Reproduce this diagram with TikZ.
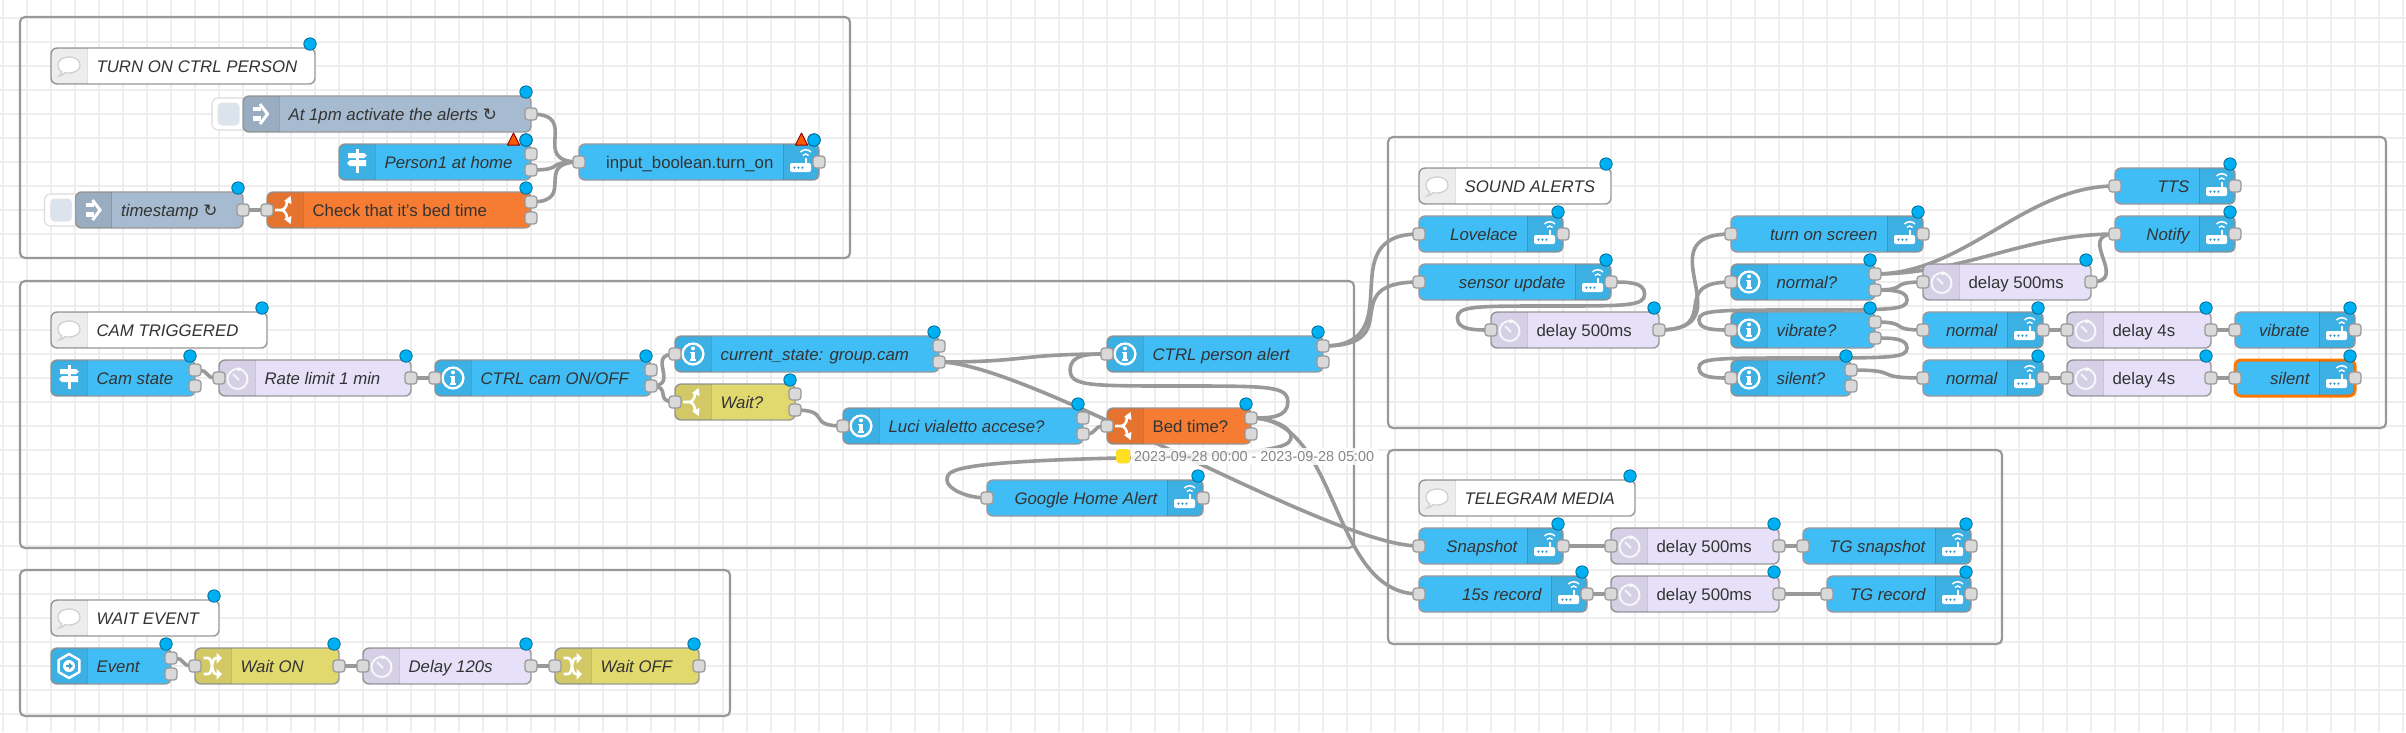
\documentclass[tikz,border=0pt]{standalone}
\usepackage{fontspec}
\setmainfont{Liberation Sans}
\newfontfamily\symfont{DejaVu Sans}
\usetikzlibrary{calc,backgrounds}
\pgfdeclarelayer{gridlayer}
\pgfdeclarelayer{wirelayer}
\pgfsetlayers{gridlayer,wirelayer,main}
\definecolor{cblue}{HTML}{41BDF5}
\definecolor{corange}{HTML}{F57C32}
\definecolor{cpurple}{HTML}{E6E0F8}
\definecolor{cyellow}{HTML}{E2D96E}
\definecolor{cgrey}{HTML}{A6BBCF}
\definecolor{cframe}{HTML}{999999}
\definecolor{cport}{HTML}{D9D9D9}
\definecolor{ctext}{HTML}{333333}
\definecolor{cdot}{HTML}{00B0F5}
\definecolor{cgrid}{HTML}{EEEEEE}
\definecolor{cstatus}{HTML}{FFDF25}
\tikzset{
  nodebox/.style={rectangle,anchor=north west,draw=cframe,line width=1.4pt,rounded corners=6pt,
    minimum height=36pt,inner sep=0pt,outer sep=0pt},
  nblue/.style={fill=cblue},
  norange/.style={fill=corange},
  npurple/.style={fill=cpurple},
  nyellow/.style={fill=cyellow},
  ngrey/.style={fill=cgrey},
  ncomment/.style={fill=white},
  nselected/.style={fill=cblue,draw=orange!95!red,line width=3pt},
  lbl/.style={inner sep=0pt,outer sep=0pt,text=ctext,font=\fontsize{16.8}{20}\selectfont},
  port/.style={rectangle,minimum size=12pt,inner sep=0pt,outer sep=0pt,rounded corners=3pt,
    fill=cport,draw=cframe,line width=1.2pt},
  wire/.style={draw=cframe,line width=3.6pt,line cap=round,
    to path={let \p1=(\tikztostart),\p2=(\tikztotarget),\n1={veclen(\x2-\x1,\y2-\y1)},
      \n2={min(90pt,0.75*\n1)} in .. controls +(\n2,0) and +(-\n2,0) .. (\tikztotarget)}},
  loopwire/.style={draw=cframe,line width=3.6pt,line cap=round},
  grp/.style={draw=cframe,line width=2.2pt,rounded corners=5pt},
  ico/.style={draw=white,line width=2.4pt},
  icofill/.style={fill=white},
}
\newcommand{\icSign}{%
  \fill[white] (-1.5,-13) rectangle (1.5,11);
  \fill[white] (-9,-9) -- (7,-9) -- (10,-6.5) -- (7,-4) -- (-9,-4) -- cycle;
  \fill[white] (9,-2) -- (-7,-2) -- (-10,1) -- (-7,4) -- (9,4) -- cycle;
}
\newcommand{\icInject}{%
  \fill[white] (-8,-7) rectangle (0,-3);
  \fill[white] (-8,2) rectangle (0,7);
  \draw[white,line width=3pt] (-1,-10) -- (6.5,0) -- (-1,10);
}
\newcommand{\icInfo}{%
  \draw[ico] (0,0) circle (10.4pt);
  \fill[white] (-1.7,-2) rectangle (1.7,6.5);
  \fill[white] (0,-5.6) circle (2pt);
  \fill[white] (-3,-2.2) rectangle (1.7,-.6);
  \fill[white] (-3,5) rectangle (3.4,6.8);
}
\newcommand{\icRouter}{%
  \fill[white,rounded corners=2pt] (-11,1) rectangle (10,10);
  \fill[white] (3.6,-4) rectangle (6,2);
  \foreach \k in {-6.5,-2.5,1.5} {\fill[cblue!80!black] (\k,5.6) circle (1.2pt);}
  \draw[white,line width=1.5pt] (1.8,-6.6) .. controls (3.5,-8.4) and (6,-8.4) .. (7.6,-6.6);
  \draw[white,line width=1.5pt] (-.6,-10) .. controls (2.5,-13) and (7,-13) .. (10,-10);
}
\newcommand{\icDelay}{%
  \draw[white,opacity=.8,line width=2pt] (.5,1) circle (10pt);
  \draw[white,opacity=.8,line width=2pt] (-4,-4) -- (2,2);
  \fill[white,opacity=.8] (.5,-11.5) -- (5,-9) -- (.5,-6.5) -- cycle;
}
\newcommand{\icFork}{%
  \draw[white,line width=2.6pt] (-10,0) -- (-4,0) .. controls (-1,0) and (2,-3) .. (2,-9);
  \draw[white,line width=2.6pt] (-4,0) .. controls (-1,0) and (2,3) .. (2,9);
  \fill[white] (5.5,-14) -- (6.5,-6) -- (-1,-9) -- cycle;
  \fill[white] (5.5,14) -- (6.5,6) -- (-1,9) -- cycle;
}
\newcommand{\icShuffle}{%
  \draw[white,line width=2.6pt] (-9.5,-8) -- (-5,-8) .. controls (0,-8) and (-2,8) .. (3,8) -- (5,8);
  \draw[white,line width=2.6pt] (-9.5,8) -- (-5,8) .. controls (0,8) and (-2,-8) .. (3,-8) -- (5,-8);
  \fill[white] (9,-8) -- (3.5,-13.5) -- (3.5,-2.5) -- cycle;
  \fill[white] (9,8) -- (3.5,13.5) -- (3.5,2.5) -- cycle;
}
\newcommand{\icEvent}{%
  \draw[ico,line join=round] (0,-12) -- (10.4,-6) -- (10.4,6) -- (0,12) -- (-10.4,6) -- (-10.4,-6) -- cycle;
  \fill[white] (0,0) circle (6pt);
  \fill[cblue!85!black] (-3.5,-1.2) rectangle (0,1.2);
  \fill[cblue!85!black] (0,-3.2) -- (4,0) -- (0,3.2) -- cycle;
}
\newcommand{\icComment}{%
  \draw[fill=white,draw=black!18,line width=1.3pt] (-7,6) .. controls (-10,4) and (-11,2) .. (-11,-1)
    .. controls (-11,-6) and (-6,-9) .. (0,-9) .. controls (6,-9) and (11,-6) .. (11,-1)
    .. controls (11,4) and (6,7) .. (0,7) .. controls (-1.5,7) and (-3,7) .. (-4,6.5)
    .. controls (-5,8) and (-7,10) .. (-10,10) .. controls (-8.5,9) and (-7.5,8) .. (-7,6) -- cycle;
}
% #1 style, #2 name, #3 x, #4 y, #5 width, #6 text, #7 icon, #8 side of the icon (L or R)
\newcommand{\fnode}[8]{%
  \node[nodebox,#1,minimum width=#5pt] (#2) at (#3,#4) {};
  \if#8L\def\secx{#3}\pgfmathsetmacro\sepx{#3+36}\else
    \pgfmathsetmacro\secx{#3+#5-36}\pgfmathsetmacro\sepx{#3+#5-36}\fi
  \begin{scope}
    \clip[rounded corners=6pt] (#3,#4) rectangle ({#3+#5},{#4+36});
    \fill[black,opacity=.07] (\secx,#4) rectangle ({\secx+36},{#4+36});
    \draw[black,opacity=.12,line width=1pt] (\sepx,#4) -- (\sepx,{#4+36});
  \end{scope}
  \begin{scope}[shift={({\secx+18},{#4+18})}]#7\end{scope}
  \if#8L\node[lbl,anchor=base west] (#2-t) at ({#3+45.6},{#4+24}) {#6};\else
    \node[lbl,anchor=base east] (#2-t) at ({#3+#5-45.6},{#4+24}) {#6};\fi
  \draw[fill=cdot,draw=black!40!cdot,line width=.8pt] ({#3+#5-5},{#4-4}) circle (6.2pt);
}
\newcommand{\pIn}[1]{\node[port] (#1-i) at (#1.west) {};}
\newcommand{\pOut}[1]{\node[port] (#1-o) at (#1.east) {};}
\newcommand{\pOutTwo}[1]{\node[port] (#1-o1) at ([yshift=8pt]#1.east) {};\node[port] (#1-o2) at ([yshift=-8pt]#1.east) {};}
\newcommand{\injbtn}[2]{%
  \draw[fill=white,draw=black!14,line width=1.1pt,rounded corners=6pt] (#1-31,#2+2) rectangle (#1+4,#2+34);
  \draw[fill=cgrey!40,draw=black!10,line width=1pt,rounded corners=4pt] (#1-25,#2+7) rectangle (#1-4,#2+29);
}
\newcommand{\warn}[2]{%
  \draw[fill=orange!70!red,draw=red!60!black,line width=1pt,line join=round] (#1-12.5,#2-7) -- (#1-6.5,#2+5) -- (#1-18.5,#2+5) -- cycle;
  \draw[fill=cdot,draw=black!40!cdot,line width=.8pt] (#1,#2) circle (6.2pt);
}
\newcommand{\sym}{{\symfont\itshape ↻}}
\begin{document}
\begin{tikzpicture}[x=1pt,y=-1pt]
\useasboundingbox (0,0) rectangle (2406,732);
\begin{pgfonlayer}{gridlayer}
  \fill[white] (0,0) rectangle (2406,732);
  \foreach \i in {0,...,100} {\draw[cgrid,line width=1.6pt] ({3+24*\i},0) -- ({3+24*\i},732);}
  \foreach \j in {0,...,29} {\draw[cgrid,line width=1.6pt] (0,{18+24*\j}) -- (2406,{18+24*\j});}
  \draw[grp] (20,17) rectangle (850,258);
  \draw[grp] (20,281) rectangle (1354,548);
  \draw[grp] (20,570) rectangle (730,716);
  \draw[grp] (1388,137) rectangle (2386,428);
  \draw[grp] (1388,450) rectangle (2002,644);
\end{pgfonlayer}

% TURN ON CTRL PERSON
\fnode{ncomment}{c1}{51}{48}{264}{\itshape TURN ON CTRL PERSON}{\icComment}{L}
\injbtn{243}{96}
\fnode{ngrey}{am}{243}{96}{288}{\itshape At 1pm activate the alerts \sym}{\icInject}{L}
\pOut{am}
\fnode{nblue}{pa}{339}{144}{192}{\itshape Person1 at home}{\icSign}{L}
\pOutTwo{pa}
\warn{526}{140}
\fnode{nblue}{ib}{579}{144}{240}{input\_boolean.turn\_on}{\icRouter}{R}
\pIn{ib}\pOut{ib}
\warn{814}{140}
\injbtn{75.5}{192}
\fnode{ngrey}{ts}{75.5}{192}{167.5}{\itshape timestamp \sym}{\icInject}{L}
\pOut{ts}
\fnode{norange}{chk}{267}{192}{264}{Check that it's bed time}{\icFork}{L}
\pIn{chk}\pOutTwo{chk}

% CAM TRIGGERED
\fnode{ncomment}{c2}{51}{312}{216}{\itshape CAM TRIGGERED}{\icComment}{L}
\fnode{nblue}{cam}{51}{360}{144}{\itshape Cam state}{\icSign}{L}
\pOutTwo{cam}
\fnode{npurple}{rate}{219}{360}{192}{\itshape Rate limit 1 min}{\icDelay}{L}
\pIn{rate}\pOut{rate}
\fnode{nblue}{ctl}{435}{360}{216}{\itshape CTRL cam ON/OFF}{\icInfo}{L}
\pIn{ctl}\pOutTwo{ctl}
\fnode{nblue}{cur}{675}{336}{264}{\itshape current\_state: group.cam}{\icInfo}{L}
\pIn{cur}\pOutTwo{cur}
\fnode{nyellow}{wt}{675}{384}{120}{\itshape Wait?}{\icFork}{L}
\pIn{wt}\pOutTwo{wt}
\fnode{nblue}{luci}{843}{408}{240}{\itshape Luci vialetto accese?}{\icInfo}{L}
\pIn{luci}\pOutTwo{luci}
\fnode{nblue}{cpa}{1107}{336}{216}{\itshape CTRL person alert}{\icInfo}{L}
\pIn{cpa}\pOutTwo{cpa}
\fnode{norange}{bed}{1107}{408}{144}{Bed time?}{\icFork}{L}
\pIn{bed}\pOutTwo{bed}
\fnode{nblue}{gha}{987}{480}{216}{\itshape Google Home Alert}{\icRouter}{R}
\pIn{gha}\pOut{gha}

% WAIT EVENT
\fnode{ncomment}{c3}{51}{600}{168}{\itshape WAIT EVENT}{\icComment}{L}
\fnode{nblue}{ev}{51}{648}{120}{\itshape Event}{\icEvent}{L}
\pOutTwo{ev}
\fnode{nyellow}{won}{195}{648}{144}{\itshape Wait ON}{\icShuffle}{L}
\pIn{won}\pOut{won}
\fnode{npurple}{d120}{363}{648}{168}{\itshape Delay 120s}{\icDelay}{L}
\pIn{d120}\pOut{d120}
\fnode{nyellow}{wof}{555}{648}{144}{\itshape Wait OFF}{\icShuffle}{L}
\pIn{wof}\pOut{wof}

% SOUND ALERTS
\fnode{ncomment}{c4}{1419}{168}{192}{\itshape SOUND ALERTS}{\icComment}{L}
\fnode{nblue}{lov}{1419}{216}{144}{\itshape Lovelace}{\icRouter}{R}
\pIn{lov}\pOut{lov}
\fnode{nblue}{sen}{1419}{264}{192}{\itshape sensor update}{\icRouter}{R}
\pIn{sen}\pOut{sen}
\fnode{npurple}{da}{1491}{312}{168}{delay 500ms}{\icDelay}{L}
\pIn{da}\pOut{da}
\fnode{nblue}{tos}{1731}{216}{192}{\itshape turn on screen}{\icRouter}{R}
\pIn{tos}\pOut{tos}
\fnode{nblue}{nq}{1731}{264}{144}{\itshape normal?}{\icInfo}{L}
\pIn{nq}\pOutTwo{nq}
\fnode{nblue}{vq}{1731}{312}{144}{\itshape vibrate?}{\icInfo}{L}
\pIn{vq}\pOutTwo{vq}
\fnode{nblue}{sq}{1731}{360}{120}{\itshape silent?}{\icInfo}{L}
\pIn{sq}\pOutTwo{sq}
\fnode{nblue}{tts}{2115}{168}{120}{\itshape TTS}{\icRouter}{R}
\pIn{tts}\pOut{tts}
\fnode{nblue}{ntf}{2115}{216}{120}{\itshape Notify}{\icRouter}{R}
\pIn{ntf}\pOut{ntf}
\fnode{npurple}{db}{1923}{264}{168}{delay 500ms}{\icDelay}{L}
\pIn{db}\pOut{db}
\fnode{nblue}{nv}{1923}{312}{120}{\itshape normal}{\icRouter}{R}
\pIn{nv}\pOut{nv}
\fnode{npurple}{dv}{2067}{312}{144}{delay 4s}{\icDelay}{L}
\pIn{dv}\pOut{dv}
\fnode{nblue}{vib}{2235}{312}{120}{\itshape vibrate}{\icRouter}{R}
\pIn{vib}\pOut{vib}
\fnode{nblue}{ns}{1923}{360}{120}{\itshape normal}{\icRouter}{R}
\pIn{ns}\pOut{ns}
\fnode{npurple}{ds}{2067}{360}{144}{delay 4s}{\icDelay}{L}
\pIn{ds}\pOut{ds}
\fnode{nselected}{sil}{2235}{360}{120}{\itshape silent}{\icRouter}{R}
\pIn{sil}\pOut{sil}

% TELEGRAM MEDIA
\fnode{ncomment}{c5}{1419}{480}{216}{\itshape TELEGRAM MEDIA}{\icComment}{L}
\fnode{nblue}{snap}{1419}{528}{144}{\itshape Snapshot}{\icRouter}{R}
\pIn{snap}\pOut{snap}
\fnode{npurple}{dc}{1611}{528}{168}{delay 500ms}{\icDelay}{L}
\pIn{dc}\pOut{dc}
\fnode{nblue}{tgs}{1803}{528}{168}{\itshape TG snapshot}{\icRouter}{R}
\pIn{tgs}\pOut{tgs}
\fnode{nblue}{rec}{1419}{576}{168}{\itshape 15s record}{\icRouter}{R}
\pIn{rec}\pOut{rec}
\fnode{npurple}{dd}{1611}{576}{168}{delay 500ms}{\icDelay}{L}
\pIn{dd}\pOut{dd}
\fnode{nblue}{tgr}{1827}{576}{144}{\itshape TG record}{\icRouter}{R}
\pIn{tgr}\pOut{tgr}

% status under Bed time?
\fill[white,opacity=.85] (1131,448) rectangle (1378,465);
\fill[cstatus,rounded corners=3.6pt] (1116,449) rectangle (1130.4,463.4);
\node[inner sep=0pt,outer sep=0pt,anchor=base west,text=black!47,font=\fontsize{14.4}{17}\selectfont] (status) at (1134,461) {2023-09-28 00:00 - 2023-09-28 05:00};

\begin{pgfonlayer}{wirelayer}
  \draw[wire] (am-o.center) to (ib-i.center);
  \draw[wire] (pa-o2.center) to (ib-i.center);
  \draw[wire] (chk-o1.center) to (ib-i.center);
  \draw[wire] (ts-o.center) to (chk-i.center);
  \draw[wire] (cam-o1.center) to (rate-i.center);
  \draw[wire] (rate-o.center) to (ctl-i.center);
  \draw[wire] (ctl-o2.center) to (cur-i.center);
  \draw[wire] (ctl-o2.center) to (wt-i.center);
  \draw[wire] (cur-o2.center) to (cpa-i.center);
  \draw[wire] (cur-o2.center) to (snap-i.center);
  \draw[wire] (wt-o2.center) to (luci-i.center);
  \draw[wire] (luci-o2.center) to (bed-i.center);
  \draw[wire] (bed-o1.center) to (rec-i.center);
  \draw[loopwire] (bed-o1.center) .. controls (1269.4,418) and (1287.8,418) .. (1287.8,402)
    .. controls (1287.8,386) and (1269.4,386) .. (1179,386)
    .. controls (1088.6,386) and (1070.2,386) .. (1070.2,370)
    .. controls (1070.2,354) and (1088.6,354) .. (cpa-i.center);
  \draw[loopwire] (bed-o1.center) .. controls (1271,418) and (1291,427) .. (1291,436)
    .. controls (1291,445) and (1291,454) .. (1119,458)
    .. controls (947,462) and (947,471) .. (947,480)
    .. controls (947,489) and (967,498) .. (gha-i.center);
  \draw[wire] (cpa-o1.center) to (lov-i.center);
  \draw[wire] (cpa-o1.center) to (sen-i.center);
  \draw[wire] (ev-o1.center) to (won-i.center);
  \draw[wire] (won-o.center) to (d120-i.center);
  \draw[wire] (d120-o.center) to (wof-i.center);
  \draw[loopwire] (sen-o.center) .. controls (1627.8,282) and (1644.6,282) .. (1644.6,294)
    .. controls (1644.6,306) and (1627.8,306) .. (1551,306)
    .. controls (1474.2,306) and (1457.4,306) .. (1457.4,318)
    .. controls (1457.4,330) and (1474.2,330) .. (da-i.center);
  \draw[wire] (da-o.center) to (tos-i.center);
  \draw[wire] (da-o.center) to (nq-i.center);
  \draw[wire] (nq-o1.center) to (tts-i.center);
  \draw[wire] (nq-o1.center) to (ntf-i.center);
  \draw[wire] (nq-o2.center) to (db-i.center);
  \draw[wire] (db-o.center) to (ntf-i.center);
  \draw[loopwire] (nq-o2.center) .. controls (1891,290) and (1907,290) .. (1907,300)
    .. controls (1907,310) and (1891,310) .. (1803,310)
    .. controls (1715,310) and (1699,310) .. (1699,320)
    .. controls (1699,330) and (1715,330) .. (vq-i.center);
  \draw[loopwire] (vq-o2.center) .. controls (1891,338) and (1907,338) .. (1907,348)
    .. controls (1907,358) and (1891,358) .. (1803,358)
    .. controls (1715,358) and (1699,358) .. (1699,368)
    .. controls (1699,378) and (1715,378) .. (sq-i.center);
  \draw[wire] (vq-o1.center) to (nv-i.center);
  \draw[wire] (nv-o.center) to (dv-i.center);
  \draw[wire] (dv-o.center) to (vib-i.center);
  \draw[wire] (sq-o1.center) to (ns-i.center);
  \draw[wire] (ns-o.center) to (ds-i.center);
  \draw[wire] (ds-o.center) to (sil-i.center);
  \draw[wire] (snap-o.center) to (dc-i.center);
  \draw[wire] (dc-o.center) to (tgs-i.center);
  \draw[wire] (rec-o.center) to (dd-i.center);
  \draw[wire] (dd-o.center) to (tgr-i.center);
\end{pgfonlayer}
\end{tikzpicture}
\end{document}
